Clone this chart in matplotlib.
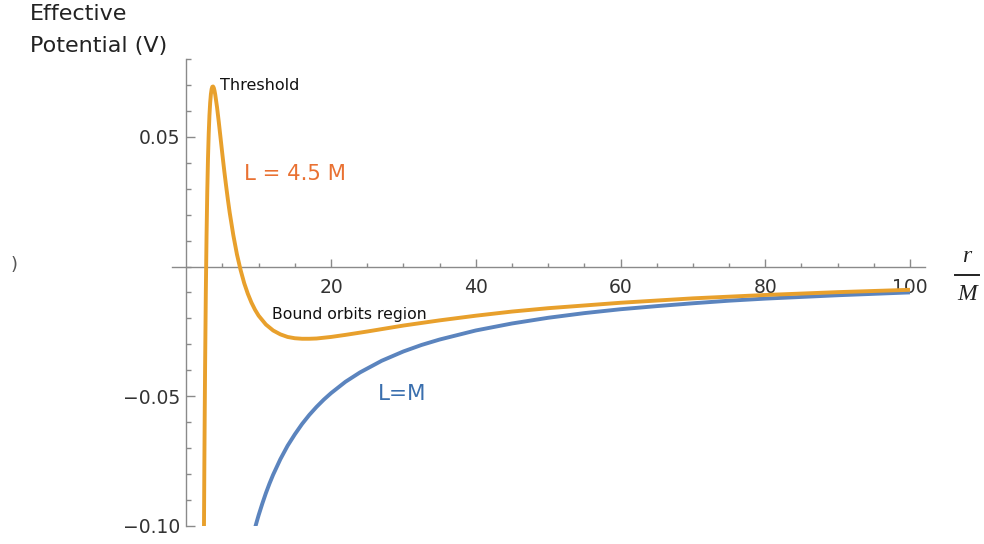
import matplotlib.pyplot as plt
from matplotlib.ticker import FixedLocator, NullFormatter
from matplotlib.lines import Line2D

# values
r_orange = [2.4, 2.45, 2.5, 2.55, 2.6, 2.7, 2.8, 2.9, 3.0, 3.1, 3.2, 3.3, 3.4, 3.5,
            3.6, 3.7, 3.8, 3.9, 4.0, 4.25, 4.5, 4.75, 5.0, 5.25, 5.5, 5.75, 6.0, 6.5,
            7.0, 7.5, 8.0, 8.5, 9.0, 9.5, 10.0, 11.0, 12.0, 13.0, 14.0, 15.0, 16.0,
            17.0, 18.0, 20.0, 22.0, 25.0, 30.0, 35.0, 40.0, 45.0, 50.0, 60.0, 70.0,
            80.0, 90.0, 100.0]
v_orange = [-0.1237, -0.0984, -0.0760, -0.0563, -0.0389, -0.0103, 0.0118, 0.0288,
            0.0417, 0.0513, 0.0583, 0.0632, 0.0665, 0.0685, 0.0694, 0.0695, 0.0690,
            0.0679, 0.0664, 0.0615, 0.0556, 0.0493, 0.0430, 0.0369, 0.0312, 0.0258,
            0.0208, 0.0121, 0.0047, -0.0013, -0.0064, -0.0105, -0.0139, -0.0167,
            -0.0190, -0.0224, -0.0247, -0.0262, -0.0272, -0.0277, -0.0279, -0.0279,
            -0.0278, -0.0272, -0.0264, -0.0251, -0.0228, -0.0208, -0.0190, -0.0174,
            -0.0161, -0.0140, -0.0123, -0.0110, -0.0099, -0.0090]

r_blue = [9.5, 9.75, 10.0, 10.5, 11.0, 11.5, 12.0, 13.0, 14.0, 15.0, 16.0, 17.0,
          18.0, 19.0, 20.0, 22.0, 24.0, 27.0, 30.0, 32.5, 35.0, 40.0, 45.0, 50.0,
          55.0, 60.0, 65.0, 70.0, 75.0, 80.0, 90.0, 100.0]
v_blue = [-0.1009, -0.0984, -0.0960, -0.0916, -0.0875, -0.0838, -0.0804, -0.0744,
          -0.0692, -0.0648, -0.0608, -0.0573, -0.0542, -0.0514, -0.0489, -0.0445,
          -0.0409, -0.0364, -0.0328, -0.0303, -0.0282, -0.0247, -0.0220, -0.0198,
          -0.0180, -0.0165, -0.0153, -0.0142, -0.0132, -0.0124, -0.0111, -0.0100]

x_major = [20, 40, 60, 80, 100]
x_minor = [5, 10, 15, 25, 30, 35, 45, 50, 55, 65, 70, 75, 85, 90, 95]
y_major = [-0.10, -0.05, 0.05]
y_labels = ['\u22120.10', '\u22120.05', '0.05']
y_minor = [-0.09, -0.08, -0.07, -0.06, -0.04, -0.03, -0.02, -0.01, 0.0,
           0.01, 0.02, 0.03, 0.04, 0.06, 0.07, 0.08]

W, H = 984, 544
fig = plt.figure(figsize=(W / 100, H / 100), dpi=100)
ax = fig.add_axes([171.8 / W, 1 - 525.5 / H, 752.7 / W, 466.2 / H])

ax.plot(r_orange, v_orange, color='#E8A02C', lw=2.8, solid_capstyle='butt',
        solid_joinstyle='round', zorder=3)
ax.plot(r_blue, v_blue, color='#5B84BE', lw=2.8, solid_capstyle='butt',
        solid_joinstyle='round', zorder=2)

ax.set_xlim(-2, 102)
ax.set_ylim(-0.10, 0.08)

for s in ['top', 'right']:
    ax.spines[s].set_visible(False)
ax.spines['left'].set_position(('data', 0))
ax.spines['bottom'].set_position(('data', 0))
for s in ['left', 'bottom']:
    ax.spines[s].set_color('#8a8a8a')
    ax.spines[s].set_linewidth(1.0)
    ax.spines[s].set_zorder(1)

ax.xaxis.set_major_locator(FixedLocator(x_major))
ax.xaxis.set_minor_locator(FixedLocator(x_minor))
ax.yaxis.set_major_locator(FixedLocator(y_major))
ax.yaxis.set_minor_locator(FixedLocator(y_minor))
ax.set_xticklabels([str(v) for v in x_major])
ax.set_yticklabels(y_labels)
ax.yaxis.set_minor_formatter(NullFormatter())

ax.tick_params(axis='x', which='major', direction='in', length=5.5, width=1.0,
               color='#8a8a8a', pad=8, labelsize=13.5, labelcolor='#333333')
ax.tick_params(axis='x', which='minor', direction='in', length=3, width=1.0,
               color='#8a8a8a')
ax.tick_params(axis='y', which='major', direction='in', length=6.5, width=1.0,
               color='#8a8a8a', pad=4, labelsize=13.5, labelcolor='#333333')
ax.tick_params(axis='y', which='minor', direction='in', length=3.6, width=1.0,
               color='#8a8a8a')
for lab in ax.get_xticklabels() + ax.get_yticklabels():
    lab.set_family('DejaVu Sans')


def px(x, y):
    return x / W, 1 - y / H


sans = 'DejaVu Sans'
fig.text(*px(30, 14), 'Effective', fontsize=16, family=sans, color='#222222', va='center')
fig.text(*px(30, 46), 'Potential (V)', fontsize=16, family=sans, color='#222222', va='center')
fig.text(*px(220, 86), 'Threshold', fontsize=11.5, family=sans, color='#111111', va='center')
fig.text(*px(244, 174), 'L = 4.5 M', fontsize=15.3, family=sans, color='#E97132', va='center')
fig.text(*px(272, 314), 'Bound orbits region', fontsize=11.3, family=sans, color='#111111', va='center')
fig.text(*px(378, 394), 'L=M', fontsize=15.5, family=sans, color='#3A6FAE', va='center')
fig.text(*px(14, 265), ')', fontsize=13, family=sans, color='#555555', va='center', ha='center')

# r / M fraction label
fig.text(*px(967, 256), 'r', fontsize=17, family='Liberation Serif', style='italic',
         color='#222222', ha='center', va='center')
fig.text(*px(967, 295), 'M', fontsize=17, family='Liberation Serif', style='italic',
         color='#222222', ha='center', va='center')
fig.add_artist(Line2D([955 / W, 979 / W], [1 - 275 / H, 1 - 275 / H],
                      color='#222222', lw=1.4))

fig.savefig('out.png', dpi=100)
